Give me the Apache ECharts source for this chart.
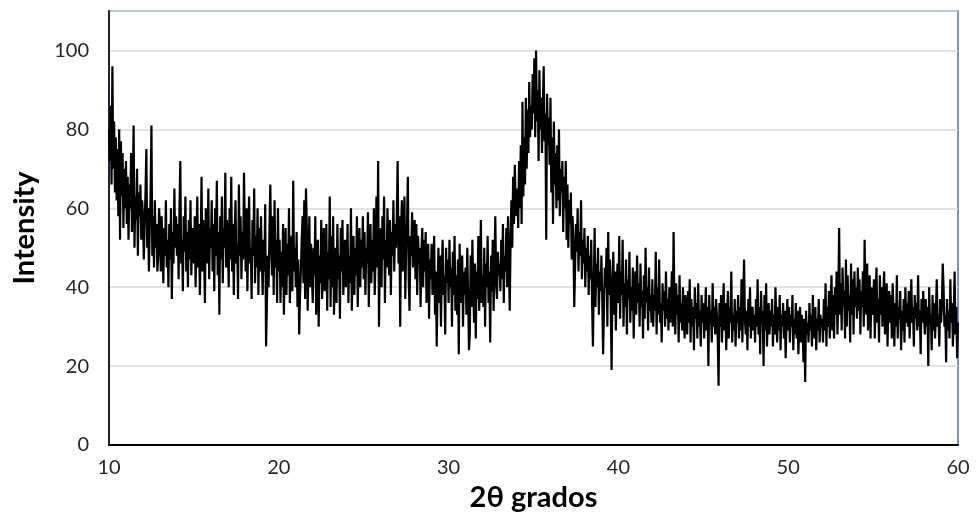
<!DOCTYPE html>
<html>
<head>
<meta charset="utf-8">
<script src="https://cdn.jsdelivr.net/npm/echarts@6/dist/echarts.min.js"></script>
<style>html,body{margin:0;padding:0;background:#fff}#c{width:976px;height:513px}</style>
</head>
<body>
<div id="c"></div>
<script>
const xStart = 10;
const xStep = 0.05;
const xTicks = [10, 20, 30, 40, 50, 60];
const yTicks = [0, 20, 40, 60, 80, 100];
const xTitle = '2θ grados';
const yTitle = 'Intensity';
const intensity = [
80,72,86,66,96,70,82,64,78,62,75,58,80,52,77,63,74,55,70,60,
72,56,68,52,66,60,74,54,66,81,50,63,57,70,48,64,58,66,52,62,
58,47,56,64,75,50,60,44,55,64,81,48,58,45,62,50,56,44,48,60,
56,44,58,50,41,55,48,62,45,52,40,56,47,60,37,54,46,65,50,58,
48,56,42,60,72,46,52,39,58,49,63,44,54,40,57,47,62,43,55,50,
46,58,40,52,63,45,56,38,50,68,44,57,48,36,60,52,46,65,42,55,
50,62,44,56,39,60,48,67,43,54,33,58,47,63,41,55,50,69,45,57,
52,40,60,47,68,44,56,38,54,62,46,51,37,66,48,58,42,54,47,69,
55,44,60,39,52,63,46,50,37,57,48,65,41,53,45,60,38,55,44,58,
47,38,52,44,61,25,36,48,40,55,66,50,43,58,38,62,45,52,36,60,
44,52,36,49,40,56,33,47,55,38,51,43,60,36,46,53,39,67,44,50,
40,54,35,47,28,38,44,52,58,41,62,37,65,55,34,46,58,40,51,43,
36,50,43,58,33,45,52,30,48,41,57,37,47,55,39,44,56,34,49,42,
63,35,53,40,58,33,45,50,36,56,42,48,32,55,44,57,38,46,52,40,
44,56,36,48,41,60,34,46,53,38,50,43,58,35,47,55,40,52,45,58,
42,54,38,50,46,59,35,49,56,41,52,44,60,38,48,63,45,72,30,47,
55,40,58,47,63,36,52,45,60,50,43,57,38,54,48,62,44,56,50,58,
72,46,58,30,55,62,44,52,63,37,50,56,68,42,34,53,48,59,45,55,
57,42,56,38,53,46,50,35,49,55,40,52,44,54,36,48,51,32,47,42,
51,38,46,53,33,44,25,40,50,36,48,30,45,52,38,43,28,50,41,47,
36,52,40,45,30,49,38,53,34,43,33,47,23,51,36,42,48,30,44,38,
45,33,50,38,24,28,48,35,52,40,31,46,27,44,37,53,34,41,57,36,
43,35,50,30,46,40,53,36,44,26,48,39,52,34,45,58,41,37,49,43,
46,39,52,42,56,36,48,44,55,40,58,47,34,52,62,50,68,56,71,60,
58,65,55,72,60,76,56,87,63,78,66,88,70,85,74,92,78,86,80,94,
84,98,78,100,82,90,72,95,80,88,74,86,96,77,84,52,89,76,83,71,
88,64,78,56,82,66,74,60,76,62,80,58,70,64,72,54,68,60,72,52,
66,50,62,56,64,47,58,52,35,45,56,49,60,44,54,48,62,42,52,46,
55,40,50,44,53,38,48,42,52,36,25,41,55,35,46,40,50,33,44,39,
48,37,23,34,45,40,50,30,54,38,47,35,19,42,49,33,44,29,41,46,
36,53,32,44,38,52,30,41,35,47,28,42,37,49,31,40,34,45,27,39,
44,33,48,36,41,30,46,35,39,27,43,32,50,36,40,29,45,34,38,31,
42,30,38,34,49,28,40,33,47,31,36,26,41,34,39,30,44,32,37,29,
40,31,36,44,30,54,35,28,41,33,38,26,43,31,36,29,40,33,27,38,
34,28,39,31,42,26,37,30,35,24,40,32,36,27,41,30,34,25,38,31,
36,27,33,40,29,35,20,38,31,34,26,41,30,35,28,37,33,27,15,36,
30,38,26,34,41,29,36,24,33,39,27,35,31,44,26,33,29,37,25,34,
31,38,27,35,29,42,26,36,47,32,28,34,24,37,30,40,27,33,35,29,
33,26,37,30,42,28,35,23,39,31,34,20,38,29,41,25,32,36,28,34,
30,37,25,33,28,40,31,26,35,29,38,24,33,30,36,27,34,22,31,37,
29,35,26,33,30,38,24,32,28,36,27,34,23,31,35,26,33,29,21,32,
16,34,28,31,26,36,29,33,25,38,30,27,35,24,32,29,37,26,33,30,
32,26,37,29,41,25,35,30,39,27,36,43,29,38,27,40,33,44,28,37,
55,33,41,29,45,35,39,27,47,30,43,34,38,26,46,33,42,28,44,35,
40,32,45,34,42,28,39,35,44,30,52,38,33,46,29,37,43,27,40,34,
33,42,27,39,45,31,37,26,43,33,40,30,38,44,28,36,41,25,35,39,
31,38,27,41,34,25,36,30,43,27,35,32,39,24,34,29,37,26,40,31,
36,30,39,27,34,42,31,35,25,38,32,36,29,43,30,34,23,37,31,39,
32,28,37,30,35,20,40,31,33,24,38,29,36,27,34,42,30,33,25,37,
31,35,46,40,30,33,21,37,29,34,27,42,31,36,25,33,44,28,35,22,
31
];

const seriesData = intensity.map((v, i) => [+(xStart + i * xStep).toFixed(2), v]);
const font = 'Lato, "Open Sans", "Liberation Sans", sans-serif';

const chart = echarts.init(document.getElementById('c'), null, {renderer: 'canvas'});
chart.setOption({
  animation: false,
  backgroundColor: '#ffffff',
  grid: {
    left: 109, right: 18, top: 11, bottom: 68,
    containLabel: false, outerBoundsMode: 'none',
    show: true, borderColor: '#4472C4', borderWidth: 1.5, backgroundColor: 'transparent'
  },
  xAxis: {
    type: 'value',
    min: xTicks[0], max: xTicks[xTicks.length - 1], interval: 10,
    name: xTitle, nameLocation: 'middle', nameGap: 37,
    nameTextStyle: {fontFamily: font, fontWeight: 'bold', fontSize: 29, color: '#000'},
    axisLine: {show: true, onZero: false, lineStyle: {color: '#000', width: 2}},
    axisTick: {show: false},
    splitLine: {show: false},
    axisLabel: {fontFamily: font, fontSize: 20, color: '#262626', margin: 13}
  },
  yAxis: {
    type: 'value',
    min: yTicks[0], max: 110, interval: 20,
    name: yTitle, nameLocation: 'middle', nameGap: 70, nameRotate: 90,
    nameTextStyle: {fontFamily: font, fontWeight: 'bold', fontSize: 29, color: '#000'},
    axisLine: {show: true, lineStyle: {color: '#1c2433', width: 2}},
    axisTick: {show: false},
    splitLine: {show: true, lineStyle: {color: '#d9d9d9', width: 1.5}},
    axisLabel: {
      fontFamily: font, fontSize: 20, color: '#262626', margin: 20,
      formatter: v => (yTicks.indexOf(v) >= 0 ? String(v) : '')
    }
  },
  series: [{
    type: 'line',
    data: seriesData,
    showSymbol: false,
    symbol: 'none',
    lineStyle: {color: '#000', width: 2.2},
    itemStyle: {color: '#000'},
    sampling: null,
    z: 3
  }]
});
</script>
</body>
</html>
